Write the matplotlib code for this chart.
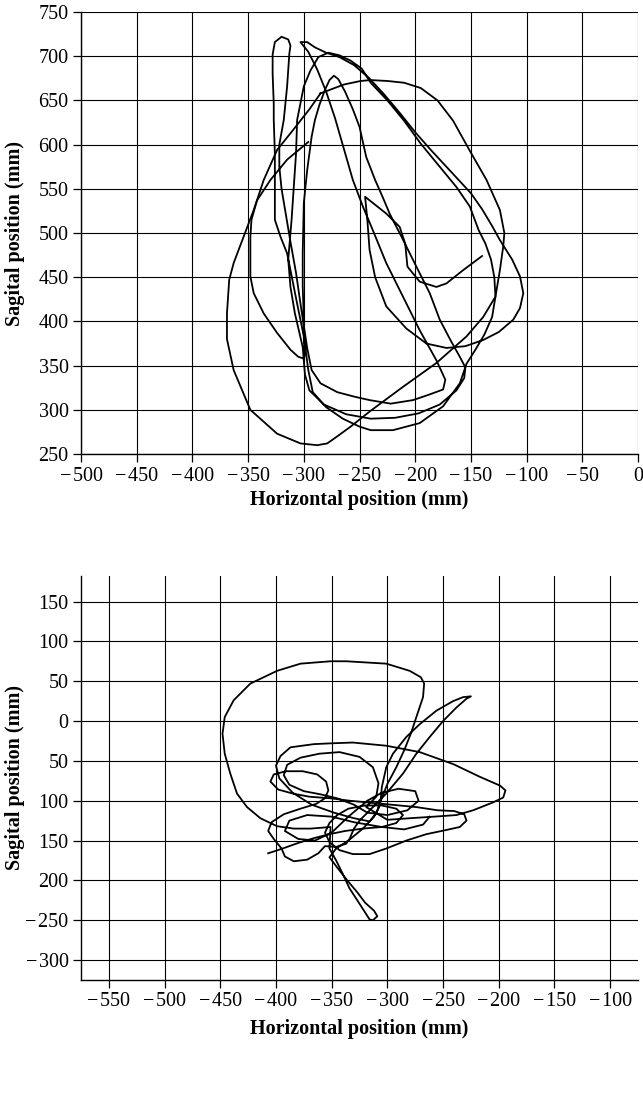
import numpy as np
import matplotlib.pyplot as plt

plt.rcParams['font.family'] = ['Liberation Serif', 'DejaVu Serif']

# ---- upper panel: traced trajectory (mm) ----
outer_x = [-285, -264, -249, -240, -225, -210, -195, -180, -166, -151, -136, -124, -120, -121,
           -124, -128, -139, -154, -181, -211, -241, -258, -270, -279, -288, -303, -324, -348,
           -363, -369, -369, -367, -363, -354, -345, -336, -324, -310, -295, -285]
outer_y = [658, 668, 672, 673, 672, 670, 664, 650, 627, 593, 560, 526, 500, 485,
           458, 428, 405, 383, 353, 326, 298, 281, 270, 262, 260, 262, 273, 300,
           345, 380, 409, 447, 466, 496, 526, 560, 594, 616, 640, 658]

path_x = [-296, -315, -330, -342, -347, -348, -348, -348, -345, -336, -324, -312, -305, -300,
          -299, -300, -300, -301, -301, -300, -297, -293, -290, -286, -281, -277, -273,
          -269, -263, -256, -250, -244, -236, -229, -223, -212, -199, -187, -178, -168, -160,
          -155, -156, -163, -178, -197, -218, -240, -262, -282, -295, -299, -301,
          -308, -312, -314, -311, -309, -307, -306, -300, -294, -287, -278,
          -268, -258, -248, -240, -225, -210, -195, -180, -163, -151, -143,
          -137, -132, -129, -128, -131, -138, -146, -154, -160, -175, -196, -220, -240, -250,
          -265, -280, -292, -296,
          -300, -306, -312, -315, -321, -326, -326, -326, -327, -327, -328, -328, -326, -320,
          -314, -312, -313, -315, -318, -322, -322, -320, -316, -312, -307, -303, -300, -297,
          -293, -285, -270, -255, -241, -222, -202, -188, -175, -173, -181, -196, -211, -226,
          -238, -247, -256, -264, -272, -280, -288, -296, -303, -297, -290,
          -280, -268, -255, -242, -228, -214, -200, -186, -172, -161, -150, -140, -131, -124,
          -113, -106, -103, -106, -112, -125, -139, -155, -172, -190, -208, -226, -236, -241,
          -243, -245, -236, -226, -214, -209, -207, -196, -181, -172, -157, -140]
path_y = [603, 583, 560, 537, 515, 495, 477, 451, 432, 409, 387, 368, 360, 358,
          364, 380, 402, 440, 477, 534, 571, 609, 628, 645, 662, 673, 678,
          674, 660, 640, 620, 586, 560, 540, 522, 495, 462, 432, 402, 378, 360,
          348, 336, 322, 306, 296, 291, 290, 295, 306, 322, 340, 371,
          409, 439, 470, 515, 552, 590, 628, 666, 684, 699, 704,
          701, 695, 686, 670, 650, 627, 601, 578, 552, 530, 503,
          488, 470, 450, 428, 405, 385, 368, 352, 330, 304, 285, 277, 277, 281,
          290, 303, 320, 345,
          383, 420, 458, 477, 496, 515, 552, 590, 628, 646, 680, 702, 716, 722,
          719, 712, 703, 666, 628, 600, 575, 550, 520, 490, 455, 420, 395, 370,
          345, 330, 320, 315, 311, 307, 311, 317, 323, 334, 356, 390, 428, 466,
          503, 530, 560, 595, 630, 660, 685, 705, 716, 716, 710,
          704, 699, 690, 676, 657, 636, 614, 594, 575, 560, 545, 527, 508, 492,
          470, 451, 432, 415, 402, 388, 379, 372, 370, 375, 392, 417, 450, 481,
          515, 541, 532, 522, 507, 488, 462, 445, 439, 443, 458, 474]

# ---- lower panel: traced trajectory (mm) ----
low_x = [-407, -394, -380, -366, -352, -338, -322, -305,
         -292, -286, -292, -305, -320, -335, -345, -352, -356, -352, -343, -331, -316, -301,
         -283, -265, -248, -235, -229, -231, -240, -255, -274, -304, -334, -351, -370, -385,
         -398, -405, -402, -391, -376, -363, -355, -353, -356, -364, -378, -393, -404, -407,
         -402, -395, -392, -384, -372, -362, -356,
         -346, -337, -334, -330, -325, -313, -301, -286, -274, -262, -250, -238, -229, -225,
         -232, -241, -256, -271, -283, -295, -301, -305, -306, -308,
         -312, -322, -335, -346, -352, -345, -336, -327, -320, -312, -309, -313, -316, -321,
         -327, -334, -340, -346, -352, -351,
         -369, -384, -399, -414, -426, -435, -441, -446, -448, -446, -438, -423, -399, -378,
         -351, -337, -301, -280, -270, -267, -268, -273, -279, -285, -292, -300, -306, -310,
         -316, -330, -348, -368, -385, -397, -400, -396, -387, -366, -351, -331, -301, -271,
         -241, -217, -199, -194, -196, -205, -223, -238, -258, -280, -300,
         -319, -310, -308, -313, -325, -343, -361, -378, -390, -393, -388, -375, -360, -345,
         -330, -318, -300, -282, -272, -275, -290, -305, -318,
         -335, -350, -365, -380, -392, -388, -372, -350, -330, -305, -285, -268, -262]
low_y = [-166, -160, -153, -147, -142, -138, -135, -133,
         -128, -118, -110, -106, -106, -110, -118, -128, -140, -152, -162, -167, -167, -160,
         -150, -142, -137, -133, -125, -117, -113, -112, -108, -104, -100, -97, -95, -91,
         -86, -76, -67, -63, -63, -67, -76, -87, -97, -104, -110, -117, -127, -138,
         -148, -160, -170, -176, -174, -166, -157,
         -158, -154, -148, -135, -125, -108, -91, -66, -41, -20, 0, 17, 28, 31,
         30, 25, 13, -4, -20, -41, -58, -83, -100, -110,
         -120, -135, -150, -160, -171, -184, -200, -215, -228, -238, -245, -250, -249, -238,
         -225, -210, -192, -175, -160, -133,
         -135, -135, -132, -122, -108, -91, -66, -41, -16, 5, 26, 47, 63, 72,
         75, 75, 72, 63, 55, 47, 30, 9, -16, -37, -58, -79, -100, -116,
         -126, -122, -115, -105, -90, -72, -56, -44, -33, -29, -28, -27, -31, -39,
         -54, -70, -81, -87, -96, -102, -112, -118, -120, -122, -124,
         -108, -95, -78, -58, -45, -39, -41, -46, -55, -68, -80, -88, -92, -97,
         -105, -115, -118, -112, -100, -88, -85, -90, -100,
         -120, -140, -150, -148, -138, -125, -118, -120, -127, -133, -136, -130, -120]

top_xticks = list(range(-500, 1, 50))
top_yticks = list(range(250, 751, 50))
low_xticks = list(range(-550, -99, 50))
low_yticks = list(range(-300, 151, 50))
low_ylabels = ['\u2212300', '\u2212250', '200', '150', '100', '50', '0', '50', '100', '150']

fig = plt.figure(figsize=(6.43, 10.93), dpi=100)
ax1 = fig.add_axes([0.126, 0.5846, 0.8663, 0.4044])
ax2 = fig.add_axes([0.126, 0.1034, 0.8663, 0.3696])

lw = 1.3
ax1.plot(outer_x, outer_y, color='black', lw=lw, solid_joinstyle='round')
ax1.plot(path_x, path_y, color='black', lw=lw, solid_joinstyle='round')
ax2.plot(low_x, low_y, color='black', lw=lw, solid_joinstyle='round')

def fmt(v):
    return str(v).replace('-', '\u2212\u200a')

ax1.set_xlim(-500, 0)
ax1.set_ylim(250, 750)
ax1.set_xticks(top_xticks)
ax1.set_xticklabels([fmt(v) for v in top_xticks])
ax1.set_yticks(top_yticks)
ax1.set_yticklabels([fmt(v) for v in top_yticks])

ax2.set_xlim(-575, -75)
ax2.set_ylim(-325, 182)
ax2.set_xticks(low_xticks)
ax2.set_xticklabels([fmt(v) for v in low_xticks])
ax2.set_yticks(low_yticks)
ax2.set_yticklabels([s.replace('\u2212', '\u2212\u200a') for s in low_ylabels])

for ax, xlab_y in ((ax1, -0.104), (ax2, -0.121)):
    ax.grid(True, color='black', lw=0.8)
    ax.set_axisbelow(True)
    for s in ('top', 'right'):
        ax.spines[s].set_visible(False)
    for s in ('left', 'bottom'):
        ax.spines[s].set_linewidth(1.0)
    ax.tick_params(direction='out', length=6, width=0.9, labelsize=14.5, pad=3)
    ax.set_xlabel('Horizontal position (mm)', fontsize=14.5, fontweight='bold', va='center')
    ax.xaxis.set_label_coords(0.5, xlab_y)
    ax.set_ylabel('Sagital position (mm)', fontsize=14.5, fontweight='bold', va='center')
    ax.yaxis.set_label_coords(-0.118, 0.5)

fig.savefig('out.png', dpi=100)
